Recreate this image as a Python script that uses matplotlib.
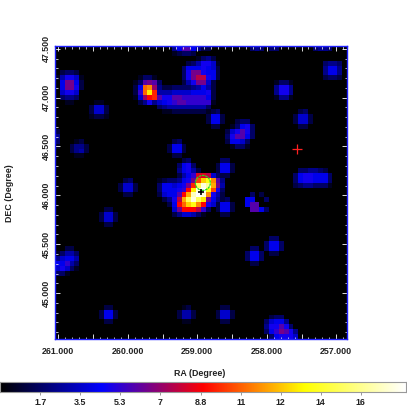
import matplotlib
matplotlib.use("Agg")
import numpy as np
import matplotlib.pyplot as plt
from matplotlib.colors import LinearSegmentedColormap
from matplotlib.patches import Ellipse
from matplotlib.ticker import MultipleLocator, FixedLocator

plt.rcParams['font.family'] = ['Liberation Sans', 'DejaVu Sans']

# image cells: (row from top, first column, base-36 level string); level*0.6 = counts
CELLS = [
 (0,24,"47aa7422"),(1,24,"12332"),(0,40,"343"),(0,44,"33"),(0,53,"3443"),
 (2,29,"1342"),(3,27,"2358861"),(4,26,"37778762"),(5,26,"38bb8772"),
 (6,26,"38bdd872"),(7,26,"258bb62"),
 (8,17,"2"),(8,22,"2233334"),(8,29,"57"),(8,31,"52"),
 (6,17,"1331"),(7,16,"13aba3"),(8,16,"27ijc42"),(9,16,"29img"),(10,16,"16cfga"),(11,17,"248"),
 (9,21,"55566667778"),(9,32,"2"),(10,22,"88aa999997"),(10,32,"2"),
 (11,20,"46789aa999996"),(11,32,"1"),(12,21,"34555555553"),(13,22,"1122222221"),
 (5,1,"2332"),(6,0,"158865"),(6,5,"1"),(7,1,"7bb72"),(8,1,"7bb82"),(9,1,"6886"),(10,1,"3443"),(11,2,"11"),
 (11,8,"11"),(12,7,"2662"),(13,7,"2662"),(14,7,"1221"),
 (17,0,"2"),(18,0,"4"),(19,0,"3"),(20,0,"1"),
 (19,4,"12"),(20,3,"2442"),(21,3,"2452"),(22,4,"11"),
 (19,24,"23"),(20,23,"2772"),(21,23,"2772"),(22,24,"22"),
 (3,55,"3443"),(4,55,"4774"),(5,55,"4774"),(6,55,"2332"),
 (7,45,"1331"),(8,45,"4884"),(9,45,"4884"),(10,45,"1441"),
 (13,50,"23"),(14,49,"2662"),(15,49,"2662"),(16,50,"22"),
 (13,32,"23"),(14,31,"2772"),(15,31,"2772"),(16,32,"22"),
 (15,37,"233"),(16,36,"13783"),(17,35,"268a83"),(18,35,"38aa73"),(19,35,"27763"),(20,36,"1331"),
 (23,26,"23"),(24,25,"3783"),(25,25,"47852"),(26,25,"2579eed63"),
 (27,21,"1233478bhlnja4"),(28,21,"377678bgptrkb5"),
 (29,21,"377789fmtunh83"),(30,21,"2677afksutj852"),
 (31,22,"248dkptpmb74"),(32,23,"27filnjf863"),(33,24,"6bfffd93"),(34,24,"2466531"),
 (23,34,"33"),(24,33,"2772"),(25,33,"2772"),(26,34,"22"),
 (31,34,"23"),(32,33,"2772"),(33,33,"2772"),(34,34,"22"),
 (25,50,"334432"),(26,49,"37887773"),(27,49,"37887773"),(28,49,"23443331"),
 (30,40,"3"),(30,42,"2"),(31,39,"77"),(31,43,"3"),(32,39,"7aa"),(33,40,"aa73"),
 (27,14,"23"),(28,13,"2662"),(29,13,"2662"),(30,14,"22"),
 (33,10,"22"),(34,9,"2662"),(35,9,"2662"),(36,10,"22"),
 (39,44,"33"),(40,43,"3773"),(41,43,"3773"),(42,44,"22"),
 (41,40,"33"),(42,39,"3773"),(43,39,"3773"),(44,40,"22"),
 (41,2,"22"),(42,0,"13553"),(43,0,"46775"),(44,0,"77953"),(45,0,"68631"),(46,0,"331"),
 (53,10,"22"),(54,9,"2772"),(55,9,"2772"),(56,10,"22"),
 (53,26,"12"),(54,25,"2552"),(55,25,"2552"),(56,26,"11"),
 (53,34,"22"),(54,33,"2662"),(55,33,"2662"),(56,34,"22"),
 (55,44,"233"),(56,43,"36774"),(57,43,"488a83"),(58,43,"379ba84"),(59,44,"378886"),
]
LEVEL_STEP = 0.6
COLOR_NODES = ["black", "blue", "red", "yellow", "white"]
RA_TICKS = [261, 260, 259, 258, 257]
DEC_TICKS = [47.5, 47.0, 46.5, 46.0, 45.5, 45.0]
CB_TICKS = [1.78, 3.56, 5.33, 7.11, 8.89, 10.67, 12.44, 14.22, 16.0]
CB_LABELS = ["1.7", "3.5", "5.3", "7", "8.8", "11", "12", "14", "16"]
RED_CROSS = (257.566, 46.477)
BLACK_CROSS = (258.947, 46.035)
GREEN_RING = (258.92, 46.127)

img = np.zeros((60, 60))
for r, c, s in CELLS:
    for i, ch in enumerate(s):
        img[r, c + i] = int(ch, 36) * LEVEL_STEP

cmap = LinearSegmentedColormap.from_list("b", COLOR_NODES, N=256)
W = 407.0
fig = plt.figure(figsize=(4.07, 4.07), dpi=100, facecolor="white")
ax = fig.add_axes([55/W, 1-339/W, 292/W, 293/W])
ext = (261.047, 256.846, 44.53, 47.528)
ax.imshow(img, cmap=cmap, vmin=0, vmax=18, extent=ext, aspect="auto", interpolation="nearest")
ax.set_xlim(ext[0], ext[1]); ax.set_ylim(ext[2], ext[3])

xt = [261-0.5*i for i in range(9)]
ax.xaxis.set_major_locator(FixedLocator(xt))
ax.xaxis.set_minor_locator(MultipleLocator(0.1))
ax.yaxis.set_major_locator(FixedLocator([47.5-0.5*i for i in range(6)]))
ax.yaxis.set_minor_locator(MultipleLocator(0.1))
ax.set_xticklabels([f"{v:.3f}" if v in RA_TICKS else "" for v in xt])
ax.set_yticklabels([f"{v:.3f}" for v in DEC_TICKS])
ax.tick_params(which="major", direction="in", length=3.5, width=0.6, color="white",
               top=True, right=True, labelsize=6.4)
ax.tick_params(which="minor", direction="in", length=1.8, width=0.6, color="#dddddd", top=True, right=True)
ax.tick_params(axis="x", which="major", pad=6)
ax.tick_params(axis="y", which="major", pad=3)
for lab in ax.get_xticklabels():
    lab.set_fontweight("bold"); lab.set_color("#222222")
for lab in ax.get_yticklabels():
    lab.set_fontweight("bold"); lab.set_color("#222222")
    lab.set_rotation(90); lab.set_va("center")
for sp in ax.spines.values():
    sp.set_color("#2020ff"); sp.set_linewidth(1.0)

ax.plot(*RED_CROSS, marker="+", ms=6.5, mew=0.9, color="#ff2020", ls="none")
ax.plot(*BLACK_CROSS, marker="+", ms=5, mew=1.2, color="black", ls="none")
ax.add_patch(Ellipse(GREEN_RING, 15/69.5, 15/98, fill=False, ec="#20e020", lw=0.9, ls=(0, (2, 0.6))))

fig.text(200/W, 1-373/W, "RA (Degree)", ha="center", va="center", fontsize=6.4, fontweight="bold", color="#222222")
fig.text(10/W, 1-193/W, "DEC (Degree)", ha="center", va="center", rotation=90, fontsize=6.4, fontweight="bold", color="#222222")

cax = fig.add_axes([0, 1-392/W, 406/W, 10/W])
cax.imshow(np.linspace(0, 18, 512)[None, :], cmap=cmap, vmin=0, vmax=18, extent=(0, 18, 0, 1), aspect="auto")
cax.set_yticks([])
cax.set_xticks(CB_TICKS); cax.set_xticklabels(CB_LABELS)
cax.tick_params(axis="x", direction="out", length=2, width=0.6, color="#888888", labelsize=6.4, pad=2.5)
for lab in cax.get_xticklabels():
    lab.set_fontweight("bold"); lab.set_color("#222222")
for sp in cax.spines.values():
    sp.set_color("#999999"); sp.set_linewidth(0.8)

fig.savefig("out.png", dpi=100, facecolor="white")
